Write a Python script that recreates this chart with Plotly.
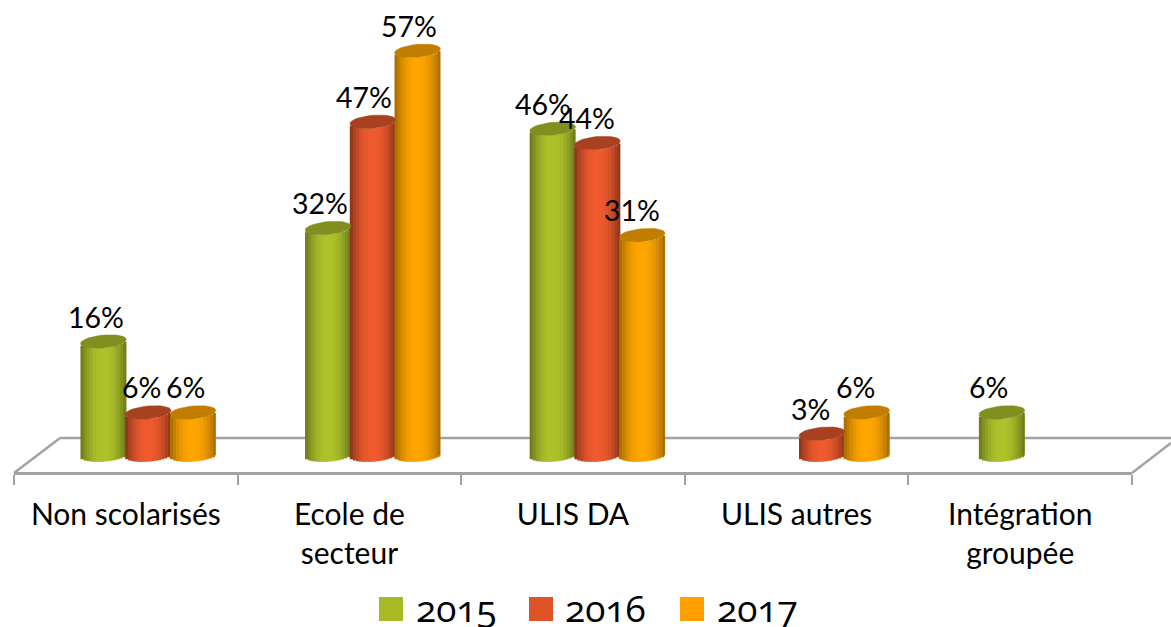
import math
import plotly.graph_objects as go

categories = ["Non scolarisés", "Ecole de<br>secteur", "ULIS DA", "ULIS autres", "Intégration<br>groupée"]
series_names = ["2015", "2016", "2017"]
values_2015 = [16, 32, 46, None, 6]
values_2016 = [6, 47, 44, 3, None]
values_2017 = [6, 57, 31, 6, None]
series_values = [values_2015, values_2016, values_2017]

W, H = 1171, 627
FONT = "Lato"
X0, X1 = 14, 1132          # pixel extent of the category axis
BASE_Y, PX_PER_UNIT = 455, 7.09
PX_PER_CAT = (X1 - X0) / 5
BAR_PX = 46
HALF = BAR_PX / 2 / PX_PER_CAT
ELL, TILT = 6.5, 2.0
N = 15

bright = ["#AEC22B", "#EF5A2E", "#FFA600"]
dark = ["#66741A", "#833218", "#A06800"]
cap = ["#808F1E", "#A8411F", "#C07D00"]
legend_col = ["#A8B925", "#E05327", "#FF9F00"]
legend_sq = [379, 529, 680]
legend_tx = [412, 561, 713]


def mix(a, b, t):
    ca = [int(a[i:i + 2], 16) for i in (1, 3, 5)]
    cb = [int(b[i:i + 2], 16) for i in (1, 3, 5)]
    return "rgb(%d,%d,%d)" % tuple(round(p + (q - p) * t) for p, q in zip(ca, cb))


fig = go.Figure()
annotations = []
dw = 2 * HALF / N

for s, (name, vals) in enumerate(zip(series_names, series_values)):
    xs, ys, bases, cols, widths = [], [], [], [], []
    cx, cy = [], []
    for i, v in enumerate(vals):
        if v is None:
            continue
        xc = i * 1.0045 + 0.1 + (s - 1) * 0.2
        for k in range(N):
            u = -1 + (2 * k + 1) / N
            wd = dw * (1.7 if k < N - 1 else 1.0)
            xs.append(xc - HALF + k * dw + wd / 2)
            widths.append(wd)
            ys.append(v)
            bases.append((-ELL * math.sqrt(1 - u * u) + TILT * u) / PX_PER_UNIT)
            cols.append(mix(bright[s], dark[s], min(1, abs(u) ** 2.2)))
        for a in range(0, 361, 10):
            t = math.radians(a)
            cx.append(xc + HALF * math.cos(t))
            cy.append(v + (ELL * math.sin(t) + TILT * math.cos(t)) / PX_PER_UNIT)
        cx.append(None)
        cy.append(None)
        annotations.append(dict(
            x=xc, y=v, xref="x", yref="y", text=f"{v}%", showarrow=False,
            xanchor="center", yanchor="middle",
            xshift=-7 - 1.5 * i, yshift=25,
            font=dict(family=FONT, size=28.5, color="#000000"),
        ))
    fig.add_trace(go.Bar(
        x=xs, y=ys, base=bases, width=widths, name=name,
        marker=dict(color=cols, line=dict(width=0)), showlegend=False, hoverinfo="skip",
    ))
    fig.add_trace(go.Scatter(
        x=cx, y=cy, mode="lines", fill="toself", fillcolor=cap[s],
        line=dict(width=0.5, color=cap[s]), showlegend=False, hoverinfo="skip",
    ))


def fx(p):
    return p / W


def fy(p):
    return 1 - p / H


GREY = "#A3A3A3"
floor = [(14, 473, 60, 438), (60, 438, 1171, 438), (1132, 473, 1171, 443)]
shapes = [
    dict(type="line", xref="paper", yref="paper", x0=fx(a), y0=fy(b), x1=fx(c), y1=fy(d),
         line=dict(color=GREY, width=2.5), layer="below")
    for a, b, c, d in floor
]
for sx, col, tx, name in zip(legend_sq, legend_col, legend_tx, series_names):
    shapes.append(dict(type="rect", xref="paper", yref="paper", x0=fx(sx), x1=fx(sx + 24),
                       y0=fy(621), y1=fy(597), fillcolor=col, line=dict(width=0)))
    annotations.append(dict(x=fx(tx), y=fy(607), xref="paper", yref="paper", text=name,
                            showarrow=False, xanchor="left", yanchor="middle",
                            font=dict(family="Open Sans", size=37, color="#000000")))

fig.update_layout(
    width=W, height=H, margin=dict(l=0, r=0, t=0, b=0, pad=0),
    paper_bgcolor="white", plot_bgcolor="white",
    barmode="overlay", showlegend=False,
    shapes=shapes, annotations=annotations,
    xaxis=dict(
        domain=[fx(X0), fx(X1)], range=[-0.5, 4.5], anchor="free",
        position=fy(473), showgrid=False, zeroline=False, showline=True,
        linecolor=GREY, linewidth=2.5,
        tickmode="array", tickvals=list(range(5)), ticktext=categories,
        ticks="", ticklabelstandoff=14, tickangle=0,
        tickfont=dict(family=FONT, size=30, color="#000000"),
        minor=dict(tickmode="array", tickvals=[i - 0.5 for i in range(6)],
                   ticks="outside", ticklen=10, tickcolor=GREY, tickwidth=2),
    ),
    yaxis=dict(
        domain=[0, 1], range=[(BASE_Y - H) / PX_PER_UNIT, BASE_Y / PX_PER_UNIT],
        visible=False,
    ),
)

fig.write_html(
    "out.html",
    config=dict(displayModeBar=False),
    post_script="""
document.body.style.margin='0';
document.querySelectorAll('.annotation-text').forEach(function(t){
  if(/^201[567]$/.test(t.textContent)){t.style.fontFeatureSettings='"onum"';}
});
""",
)
